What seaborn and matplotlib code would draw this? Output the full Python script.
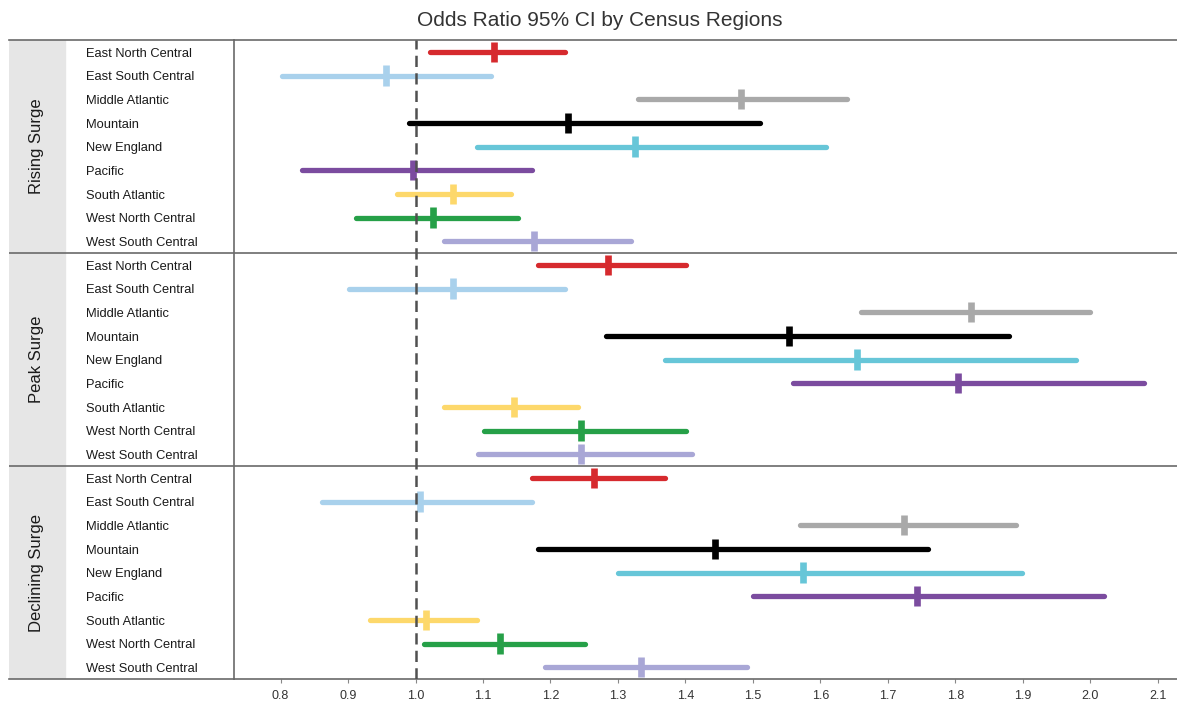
import numpy as np
import pandas as pd
import matplotlib
matplotlib.use("Agg")
import matplotlib.pyplot as plt
import seaborn as sns

# ---------------- data ----------------
regions = ["East North Central", "East South Central", "Middle Atlantic", "Mountain",
           "New England", "Pacific", "South Atlantic", "West North Central",
           "West South Central"]
phases = ["Rising Surge", "Peak Surge", "Declining Surge"]

rising_est = [1.116, 0.956, 1.483, 1.226, 1.325, 0.996, 1.056, 1.026, 1.175]
rising_lo = [1.022, 0.802, 1.330, 0.990, 1.091, 0.832, 0.972, 0.912, 1.042]
rising_hi = [1.222, 1.112, 1.640, 1.510, 1.608, 1.172, 1.141, 1.152, 1.320]

peak_est = [1.285, 1.056, 1.824, 1.554, 1.654, 1.804, 1.146, 1.246, 1.246]
peak_lo = [1.182, 0.902, 1.660, 1.282, 1.370, 1.560, 1.042, 1.102, 1.092]
peak_hi = [1.401, 1.221, 1.999, 1.880, 1.979, 2.079, 1.241, 1.401, 1.410]

decl_est = [1.265, 1.006, 1.724, 1.444, 1.574, 1.744, 1.016, 1.125, 1.334]
decl_lo = [1.172, 0.862, 1.570, 1.182, 1.300, 1.500, 0.932, 1.012, 1.192]
decl_hi = [1.370, 1.172, 1.890, 1.760, 1.899, 2.020, 1.091, 1.251, 1.491]

xticks = [0.8, 0.9, 1.0, 1.1, 1.2, 1.3, 1.4, 1.5, 1.6, 1.7, 1.8, 1.9, 2.0, 2.1]

colors = ["#D62A2E", "#A9D1EC", "#A9A9A9", "#000000", "#67C6D8",
          "#7B4C9F", "#FDD86B", "#26A048", "#A9A7D6"]
palette = dict(zip(regions, colors))

# ---------------- frame ----------------
rows = []
for p, (e, lo, hi) in zip(phases, [(rising_est, rising_lo, rising_hi),
                                  (peak_est, peak_lo, peak_hi),
                                  (decl_est, decl_lo, decl_hi)]):
    for r, ee, ll, hh in zip(regions, e, lo, hi):
        rows.append(dict(phase=p, region=r, est=ee, lo=ll, hi=hh))
df = pd.DataFrame(rows)
df["ypos"] = np.arange(len(df))

sns.set_theme(style="white")
plt.rcParams["font.family"] = ["Liberation Sans", "DejaVu Sans"]

W, H = 1177, 701
fig = plt.figure(figsize=(W / 100, H / 100), dpi=100)

top_px, bot_px = 40, 679
left_px = 234
ax = fig.add_axes([left_px / W, 1 - bot_px / H, (W - left_px) / W, (bot_px - top_px) / H])
lab = fig.add_axes([9 / W, 1 - bot_px / H, (left_px - 9) / W, (bot_px - top_px) / H])

n = len(df)
for a in (ax, lab):
    a.set_ylim(n - 0.5, -0.5)
    a.set_facecolor("none")

line_col = "#6a6a6a"

# CI lines
lc = ax.hlines(df["ypos"], df["lo"], df["hi"], colors=[palette[r] for r in df["region"]],
               linewidth=3.8, zorder=2)
lc.set_capstyle("round")

# point estimates
sns.scatterplot(data=df, x="est", y="ypos", hue="region", palette=palette, marker="|",
                s=215, linewidth=4.8, legend=False, ax=ax, zorder=3)

# reference line
ax.axvline(1.0, color="#505050", linewidth=1.8, linestyle=(0, (4.5, 2.5)), zorder=5)

# separators
for yb in (8.5, 17.5):
    ax.axhline(yb, color=line_col, linewidth=1.2, zorder=1)
    lab.axhline(yb, color=line_col, linewidth=1.2)

ax.set_xlim(0.731, 2.1286)
ax.set_xticks(xticks)
ax.set_xticklabels([f"{t:.1f}" for t in xticks], fontsize=9, color="#333333")
ax.tick_params(axis="x", bottom=True, length=3, width=0.8, color="#888888", pad=5)
ax.set_yticks([])
ax.set_xlabel("")
ax.set_ylabel("")
ax.spines["right"].set_visible(False)
for s in ["top", "bottom", "left"]:
    ax.spines[s].set_color(line_col)
    ax.spines[s].set_linewidth(1.2)

# label area
lab.set_xlim(0, left_px - 9)
lab.set_xticks([])
lab.set_yticks([])
lab.axvspan(0, 56, color="#E6E6E6", zorder=0)
for s in ["left", "right"]:
    lab.spines[s].set_visible(False)
for s in ["top", "bottom"]:
    lab.spines[s].set_color(line_col)
    lab.spines[s].set_linewidth(1.2)

for _, row in df.iterrows():
    lab.text(77, row["ypos"] + 0.08, row["region"], fontsize=9.3, color="#1a1a1a",
             va="center", ha="left")

for i, p in enumerate(phases):
    lab.text(28, i * 9 + 4, p, rotation=90, fontsize=12, color="#1a1a1a",
             va="center", ha="center")

fig.text(600 / W, 1 - 20 / H, "Odds Ratio 95% CI by Census Regions", fontsize=15,
         color="#333333", ha="center", va="center")

fig.savefig("out.png", dpi=100)
